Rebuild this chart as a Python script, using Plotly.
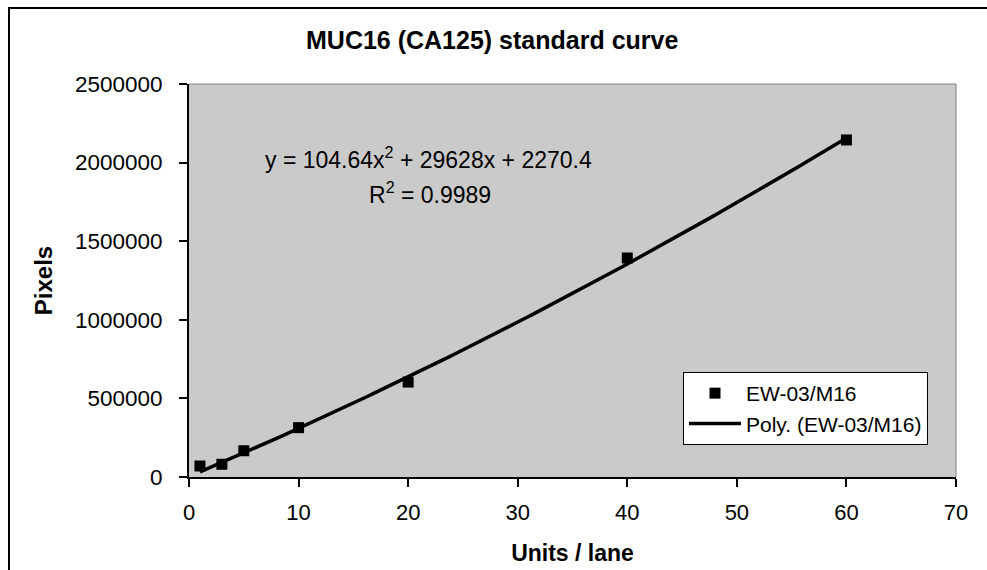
import numpy as np
import plotly.graph_objects as go

units = [1, 3, 5, 10, 20, 40, 60]
pixels = [70000, 81000, 167000, 314000, 604000, 1393000, 2144000]
coef = [104.64, 29628, 2270.4]  # trendline: a*x^2 + b*x + c (from the chart label)
x_ticks = [0, 10, 20, 30, 40, 50, 60, 70]
y_ticks = [0, 500000, 1000000, 1500000, 2000000, 2500000]

W, H = 987, 570
L, R, T, B = 189, 31, 84, 93
PW, PH = W - L - R, H - T - B

def px(xp):
    return (xp - L) / PW

def py(yp):
    return (H - B - yp) / PH

xs = np.linspace(min(units), max(units), 200)
ys = coef[0] * xs**2 + coef[1] * xs + coef[2]

FONT = "Liberation Sans, Arial, sans-serif"

fig = go.Figure()
fig.add_trace(go.Scatter(
    x=units, y=pixels, mode="markers", name="EW-03/M16",
    marker=dict(symbol="square", size=11, color="black"),
))
fig.add_trace(go.Scatter(
    x=xs, y=ys, mode="lines", name="Poly. (EW-03/M16)",
    line=dict(color="black", width=3.5),
))

def ann(text, xp, yp, size):
    return dict(text=text, xref="paper", yref="paper", x=px(xp), y=py(yp),
                xanchor="center", yanchor="middle", showarrow=False,
                font=dict(size=size))

fig.update_layout(
    width=W, height=H,
    margin=dict(l=L, r=R, t=T, b=B, autoexpand=False),
    paper_bgcolor="white",
    plot_bgcolor="#CACACA",
    font=dict(family=FONT, size=22, color="black"),
    showlegend=True,
    legend=dict(
        x=px(683), y=py(372), xanchor="left", yanchor="top",
        bgcolor="white", bordercolor="black", borderwidth=1,
        font=dict(size=21), itemwidth=52,
    ),
    xaxis=dict(
        range=[0, 70], tickvals=x_ticks, ticktext=[str(v) for v in x_ticks],
        showgrid=False, zeroline=False, showline=True, linecolor="black", linewidth=2,
        ticks="outside", ticklen=8, tickwidth=2, tickcolor="black",
        tickfont=dict(size=22), ticklabelstandoff=7, automargin=False,
        title=dict(text="<b>Units / lane</b>", font=dict(size=23), standoff=20),
    ),
    yaxis=dict(
        range=[0, 2500000], tickvals=y_ticks, ticktext=[str(v) for v in y_ticks],
        showgrid=False, zeroline=False, showline=True, linecolor="black", linewidth=2,
        ticks="outside", ticklen=8, tickwidth=2, tickcolor="black",
        tickfont=dict(size=22.5), ticklabelstandoff=12, automargin=False,
        title=dict(text="<b>Pixels</b>", font=dict(size=24), standoff=15),
    ),
    annotations=[
        ann("<b>MUC16 (CA125) standard curve</b>", 492, 40, 25),
        ann("y = 104.64x<sup>2</sup> + 29628x + 2270.4", 428, 158, 23),
        ann("R<sup>2</sup> = 0.9989", 430, 193, 23),
    ],
    shapes=[
        dict(type="line", xref="paper", yref="paper", x0=0, x1=1, y0=1, y1=1,
             line=dict(color="#808080", width=1)),
        dict(type="line", xref="paper", yref="paper", x0=1, x1=1, y0=0, y1=1,
             line=dict(color="#808080", width=1)),
        dict(type="rect", xref="paper", yref="paper", x0=px(9), x1=px(1010),
             y0=py(600), y1=py(8), line=dict(color="black", width=2), layer="below"),
    ],
)

fig.write_html("out.html", config={"displayModeBar": False},
               post_script="document.body.style.margin='0';document.body.style.overflow='hidden';")
